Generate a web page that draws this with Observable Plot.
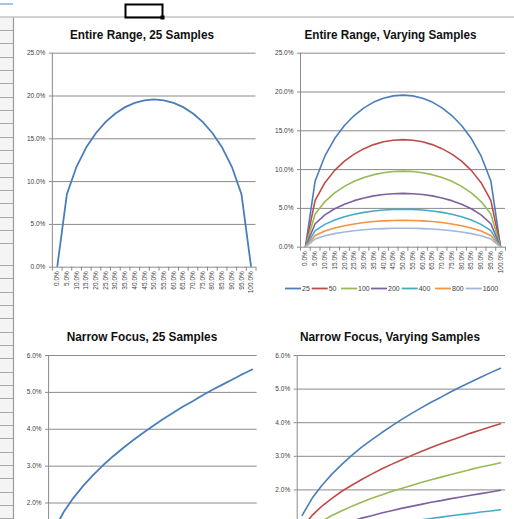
<!DOCTYPE html>
<html><head><meta charset="utf-8">
<script src="https://cdn.jsdelivr.net/npm/d3@7"></script>
<script src="https://cdn.jsdelivr.net/npm/@observablehq/plot@0.6"></script>
<style>
html,body{margin:0;padding:0;background:#fff;}
#root{position:relative;width:514px;height:519px;overflow:hidden;background:#fff;font-family:"Liberation Sans",Arial,sans-serif;}
.layer{position:absolute;left:0;top:0;}
.chart{position:absolute;}
.chart svg{display:block;overflow:visible;}
</style></head><body><div id="root"></div>
<script>
// ---------- data ----------
const sampleSizes = [25, 50, 100, 200, 400, 800, 1600];
const entireLabels = ["0.0%","5.0%","10.0%","15.0%","20.0%","25.0%","30.0%","35.0%","40.0%","45.0%","50.0%","55.0%","60.0%","65.0%","70.0%","75.0%","80.0%","85.0%","90.0%","95.0%","100.0%"];
const narrowLabels = ["0.1%","0.2%","0.3%","0.4%","0.5%","0.6%","0.7%","0.8%","0.9%","1.0%","1.1%","1.2%","1.3%","1.4%","1.5%","1.6%","1.7%","1.8%","1.9%","2.0%","2.1%"];
const entireYTicks = [0, 5, 10, 15, 20, 25];
const narrowYTicks = [2, 3, 4, 5, 6];   // visible part of the 0%–6% axis

const entire25   = [0, 8.54, 11.76, 14.00, 15.68, 16.97, 17.96, 18.70, 19.20, 19.50, 19.60, 19.50, 19.20, 18.70, 17.96, 16.97, 15.68, 14.00, 11.76, 8.54, 0];
const entire50   = [0, 6.04, 8.32, 9.90, 11.09, 12.00, 12.70, 13.22, 13.58, 13.79, 13.86, 13.79, 13.58, 13.22, 12.70, 12.00, 11.09, 9.90, 8.32, 6.04, 0];
const entire100  = [0, 4.27, 5.88, 7.00, 7.84, 8.49, 8.98, 9.35, 9.60, 9.75, 9.80, 9.75, 9.60, 9.35, 8.98, 8.49, 7.84, 7.00, 5.88, 4.27, 0];
const entire200  = [0, 3.02, 4.16, 4.95, 5.54, 6.00, 6.35, 6.61, 6.79, 6.89, 6.93, 6.89, 6.79, 6.61, 6.35, 6.00, 5.54, 4.95, 4.16, 3.02, 0];
const entire400  = [0, 2.14, 2.94, 3.50, 3.92, 4.24, 4.49, 4.67, 4.80, 4.88, 4.90, 4.88, 4.80, 4.67, 4.49, 4.24, 3.92, 3.50, 2.94, 2.14, 0];
const entire800  = [0, 1.51, 2.08, 2.47, 2.77, 3.00, 3.18, 3.31, 3.39, 3.45, 3.46, 3.45, 3.39, 3.31, 3.18, 3.00, 2.77, 2.47, 2.08, 1.51, 0];
const entire1600 = [0, 1.07, 1.47, 1.75, 1.96, 2.12, 2.25, 2.34, 2.40, 2.44, 2.45, 2.44, 2.40, 2.34, 2.25, 2.12, 1.96, 1.75, 1.47, 1.07, 0];

const narrow25   = [1.24, 1.75, 2.14, 2.47, 2.76, 3.03, 3.27, 3.49, 3.70, 3.90, 4.09, 4.27, 4.44, 4.61, 4.76, 4.92, 5.07, 5.21, 5.35, 5.49, 5.62];
const narrow50   = [0.88, 1.24, 1.52, 1.75, 1.96, 2.14, 2.31, 2.47, 2.62, 2.76, 2.89, 3.02, 3.14, 3.26, 3.37, 3.48, 3.58, 3.69, 3.78, 3.88, 3.97];
const narrow100  = [0.62, 0.88, 1.07, 1.24, 1.38, 1.51, 1.63, 1.75, 1.85, 1.95, 2.04, 2.13, 2.22, 2.30, 2.38, 2.46, 2.53, 2.61, 2.68, 2.74, 2.81];
const narrow200  = [0.44, 0.62, 0.76, 0.87, 0.98, 1.07, 1.16, 1.23, 1.31, 1.38, 1.45, 1.51, 1.57, 1.63, 1.68, 1.74, 1.79, 1.84, 1.89, 1.94, 1.99];
const narrow400  = [0.31, 0.44, 0.54, 0.62, 0.69, 0.76, 0.82, 0.87, 0.93, 0.98, 1.02, 1.07, 1.11, 1.15, 1.19, 1.23, 1.27, 1.30, 1.34, 1.37, 1.41];
const narrow800  = [0.22, 0.31, 0.38, 0.44, 0.49, 0.54, 0.58, 0.62, 0.65, 0.69, 0.72, 0.75, 0.78, 0.81, 0.84, 0.87, 0.90, 0.92, 0.95, 0.97, 0.99];
const narrow1600 = [0.15, 0.22, 0.27, 0.31, 0.35, 0.38, 0.41, 0.44, 0.46, 0.49, 0.51, 0.53, 0.56, 0.58, 0.60, 0.61, 0.63, 0.65, 0.67, 0.69, 0.70];

const chartTitles = ["Entire Range, 25 Samples", "Entire Range, Varying Samples", "Narrow Focus, 25 Samples", "Narrow Focus, Varying Samples"];

// ---------- style ----------
const seriesColors = ["#4A7EBB", "#BE4B48", "#98B954", "#7D60A0", "#46AAC5", "#F69240", "#A2B7DE"];
const GRID = "#8a8a8a";
const TEXT = "#404040";

const entireAll = [entire25, entire50, entire100, entire200, entire400, entire800, entire1600];
const narrowAll = [narrow25, narrow50, narrow100, narrow200, narrow400, narrow800, narrow1600];

function rowsOf(seriesList) {
  return seriesList.flatMap((vals, k) => vals.map((v, i) => ({i, v, n: sampleSizes[k]})));
}

function lineChart({labels, series, yTicks, yMin, showX, left, top, width, height, mL, mR, mT, mB, strokeWidth, fontSize}) {
  const idx = labels.map((_, i) => i);
  const bounds = [...labels.map((_, i) => i - 0.5), labels.length - 0.5];
  const marks = [
    Plot.ruleY(yTicks, {stroke: GRID, strokeWidth: 1}),
    Plot.ruleX([-0.5], {stroke: GRID, strokeWidth: 1}),
    Plot.axisY({ticks: yTicks, tickFormat: d => d.toFixed(1) + "%", tickSize: 3, tickPadding: 4, stroke: GRID, fill: TEXT, fontSize, label: null}),
    Plot.line(rowsOf(series), {x: "i", y: "v", z: "n", stroke: "n", strokeWidth, strokeLinejoin: "round", clip: true})
  ];
  if (showX) {
    marks.splice(3, 0,
      Plot.axisX({ticks: bounds, tickFormat: () => "", tickSize: 4, stroke: GRID, label: null}),
      Plot.axisX({ticks: idx, tickFormat: i => labels[i], tickSize: 0, tickPadding: 4, tickRotate: -90, fill: TEXT, fontSize, label: null}));
  }
  const chart = Plot.plot({
    width, height, marginLeft: mL, marginRight: mR, marginTop: mT, marginBottom: mB,
    style: {fontFamily: '"Liberation Sans", Arial, sans-serif', color: TEXT, background: "transparent", overflow: "visible"},
    x: {type: "linear", domain: [-0.5, labels.length - 0.5], label: null, axis: showX ? undefined : null},
    y: {domain: [yMin, yTicks[yTicks.length - 1]], label: null},
    color: {domain: sampleSizes, range: seriesColors},
    marks
  });
  const div = document.createElement("div");
  div.className = "chart";
  div.style.left = left + "px";
  div.style.top = top + "px";
  div.appendChild(chart);
  return div;
}

const root = document.getElementById("root");

// ---------- spreadsheet background ----------
const bg = d3.create("svg").attr("class", "layer").attr("width", 514).attr("height", 519);
bg.append("rect").attr("x", 0).attr("y", 17).attr("width", 13).attr("height", 502).attr("fill", "#f4f4f4");
bg.append("rect").attr("x", 0).attr("y", 3).attr("width", 13).attr("height", 2).attr("fill", "#a9c4e6");
const rowLines = [...d3.range(30, 252, 13.33), ...d3.range(265, 519, 13.33)];
bg.selectAll("line.row").data(rowLines).join("line")
  .attr("x1", 0).attr("x2", 13).attr("y1", d => Math.round(d) + 0.5).attr("y2", d => Math.round(d) + 0.5)
  .attr("stroke", "#a8a8a8");
bg.append("line").attr("x1", 13.5).attr("x2", 13.5).attr("y1", 17).attr("y2", 519).attr("stroke", "#9a9a9a").attr("stroke-width", 1.2);
bg.append("line").attr("x1", 0).attr("x2", 514).attr("y1", 17).attr("y2", 17).attr("stroke", "#c4c4c4").attr("stroke-width", 1.5);
bg.append("rect").attr("x", 125.5).attr("y", 4.5).attr("width", 37).attr("height", 13).attr("fill", "none").attr("stroke", "#000").attr("stroke-width", 2);
bg.append("rect").attr("x", 160.5).attr("y", 15.5).attr("width", 4).attr("height", 4).attr("fill", "#000");
root.appendChild(bg.node());

// ---------- charts ----------
root.appendChild(lineChart({labels: entireLabels, series: [entire25], yTicks: entireYTicks, yMin: 0, showX: true,
  left: 14, top: 18, width: 250, height: 300, mL: 37.85, mR: 8.5, mT: 34.7, mB: 51.3, strokeWidth: 1.8, fontSize: 6.5}));
root.appendChild(lineChart({labels: entireLabels, series: entireAll, yTicks: entireYTicks, yMin: 0, showX: true,
  left: 264, top: 18, width: 250, height: 300, mL: 36, mR: 9, mT: 34.7, mB: 71.3, strokeWidth: 1.6, fontSize: 6.5}));
// narrow charts: only the top of the 0%–6% plot is inside the window
root.appendChild(lineChart({labels: narrowLabels, series: [narrow25], yTicks: narrowYTicks, yMin: 1.553, showX: false,
  left: 14, top: 320, width: 250, height: 199, mL: 34.1, mR: 7.3, mT: 35, mB: 0, strokeWidth: 1.8, fontSize: 6.5}));
root.appendChild(lineChart({labels: narrowLabels, series: narrowAll, yTicks: narrowYTicks, yMin: 1.119, showX: false,
  left: 264, top: 320, width: 250, height: 199, mL: 32.7, mR: 9, mT: 35, mB: 0, strokeWidth: 1.6, fontSize: 6.5}));

// ---------- titles & legend ----------
const fg = d3.create("svg").attr("class", "layer").attr("width", 514).attr("height", 519)
  .style("font-family", '"Liberation Sans", Arial, sans-serif');
const titlePos = [[142, 39, 144], [390.5, 38.5, 172], [142, 340.5, 150.6], [390, 340.5, 180]];
chartTitles.forEach((t, k) => {
  const [cx, by, w] = titlePos[k];
  fg.append("text").attr("x", cx).attr("y", by).attr("text-anchor", "middle")
    .attr("font-size", 13.5).attr("font-weight", "bold").attr("fill", "#111")
    .attr("textLength", w).attr("lengthAdjust", "spacingAndGlyphs").text(t);
});
const legendX = [285, 311.7, 341, 371, 401.7, 435, 465.7];
const lg = fg.append("g");
sampleSizes.forEach((n, k) => {
  const x = legendX[k];
  lg.append("line").attr("x1", x).attr("x2", x + 16).attr("y1", 288.5).attr("y2", 288.5)
    .attr("stroke", seriesColors[k]).attr("stroke-width", 1.8);
  lg.append("text").attr("x", x + 17).attr("y", 291).attr("font-size", 7).attr("fill", TEXT).text(String(n));
});
root.appendChild(fg.node());
</script>
</body></html>
